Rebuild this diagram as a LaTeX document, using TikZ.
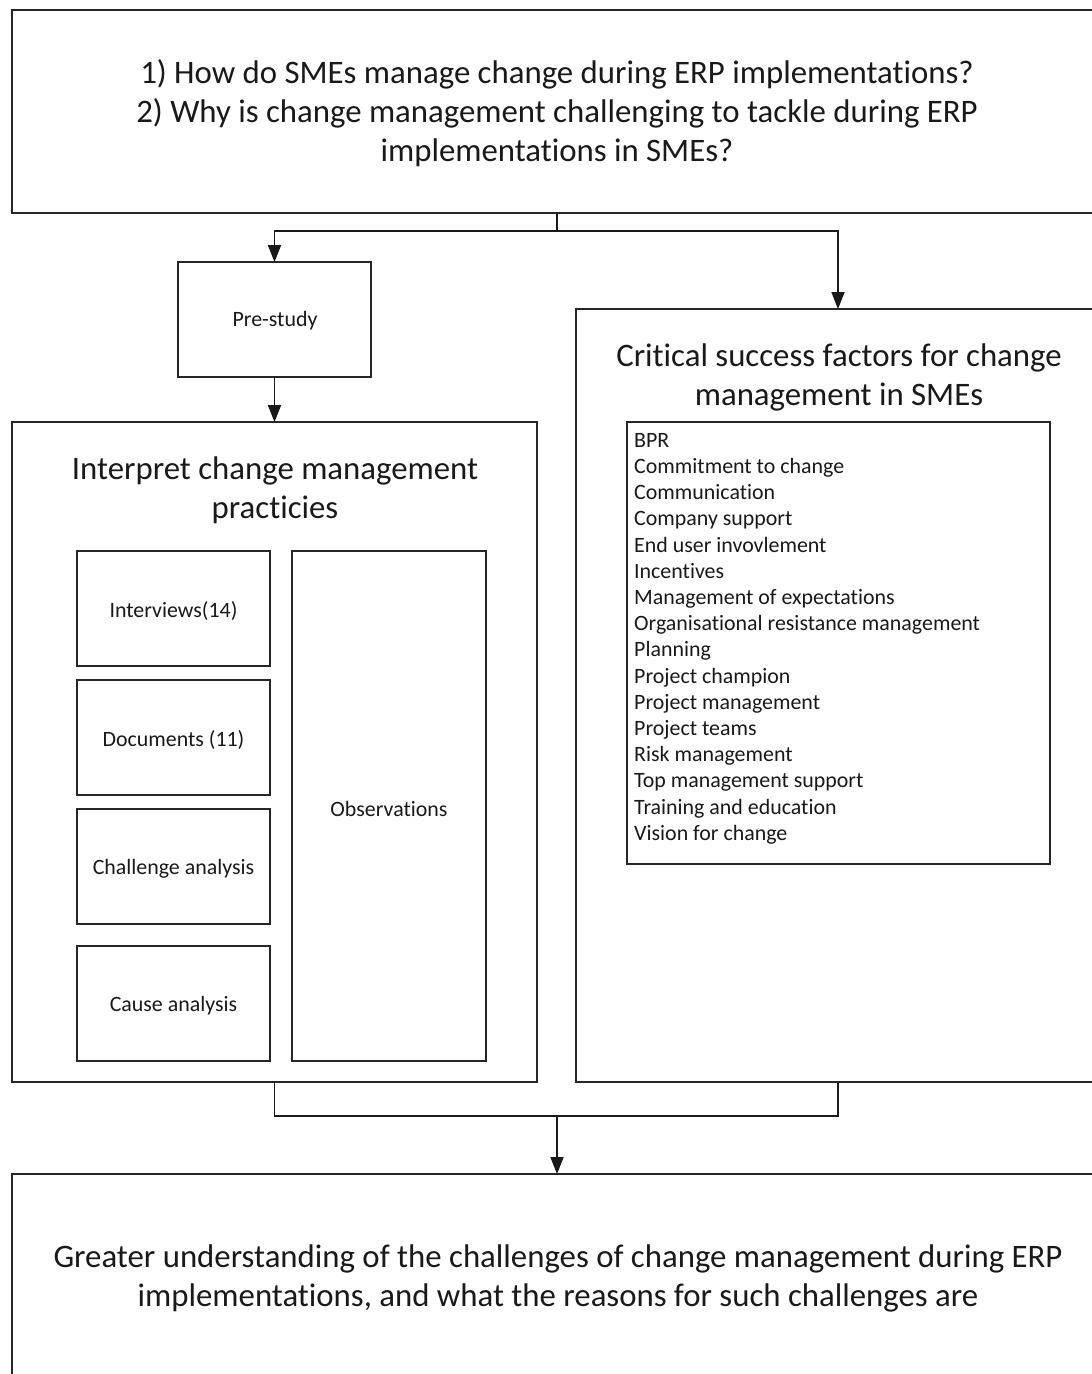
\documentclass[tikz,border=0pt]{standalone}
\usepackage{fontspec}
\setmainfont{Carlito}[Ligatures=NoCommon]
\usetikzlibrary{arrows.meta}
\begin{document}
\begin{tikzpicture}[x=1pt,y=-1pt,
  box/.style={draw=black!85,line width=1.8pt,inner sep=0pt,outer sep=0pt},
  big/.style={font=\fontsize{32.8}{39}\selectfont,align=center,text=black!90},
  small/.style={font=\fontsize{21.9}{26.2}\selectfont,text=black!90},
  arr/.style={line width=1.8pt,draw=black!90,-{Triangle[width=13pt,length=17pt]}},
  ln/.style={line width=1.8pt,draw=black!90}]
\useasboundingbox (0,0) rectangle (1092,1374);
\clip (0,0) rectangle (1092,1374);
\fill[white] (0,0) rectangle (1092,1374);
% boxes
\node[box,minimum width=1090pt,minimum height=203pt] (q) at (557,111.5) {};
\node[big] (qt) at (557,113) {1) How do SMEs manage change during ERP implementations?\\2) Why is change management challenging to tackle during ERP\\implementations in SMEs?};
\node[box,small,minimum width=193pt,minimum height=115pt] (pre) at (274.5,319.5) {};
\node[small] (pret) at (275,321) {Pre-study};
\node[box,minimum width=525pt,minimum height=660pt] (interp) at (274.5,752) {};
\node[big] (it) at (275,490.5) {Interpret change management\\practicies};
\node[box,minimum width=193pt,minimum height=115pt] (iv) at (173.5,608.5) {};
\node[small] (ivt) at (173.5,611) {Interviews(14)};
\node[box,minimum width=193pt,minimum height=115pt] (doc) at (173.5,737.5) {};
\node[small] (doct) at (173.5,740) {Documents (11)};
\node[box,minimum width=193pt,minimum height=115pt] (cha) at (173.5,866.5) {};
\node[small] (chat) at (173.5,869) {Challenge analysis};
\node[box,minimum width=193pt,minimum height=115pt] (cau) at (173.5,1003.5) {};
\node[small] (caut) at (173.5,1006) {Cause analysis};
\node[box,minimum width=194pt,minimum height=510pt] (obs) at (389,806) {};
\node[small] (obst) at (389,809) {Observations};
\node[box,minimum width=524pt,minimum height=773pt] (csf) at (838,695.5) {};
\node[big] (ct) at (839,377.5) {Critical success factors for change\\management in SMEs};
\node[box,minimum width=423pt,minimum height=442pt] (lst) at (838.5,643) {};
\node[small,align=left,anchor=north west,inner sep=0pt] (lt) at (634,433) {BPR\\Commitment to change\\Communication\\Company support\\End user invovlement\\Incentives\\Management of expectations\\Organisational resistance management\\Planning\\Project champion\\Project management\\Project teams\\Risk management\\Top management support\\Training and education\\Vision for change};
\node[box,minimum width=1090pt,minimum height=412pt] (res) at (557,1380) {};
\node[big] (rt) at (558,1278.5) {Greater understanding of the challenges of change management during ERP\\implementations, and what the reasons for such challenges are};
% connectors
\coordinate (j1) at (557,231);
\coordinate (j2) at (557,1116);
\draw[ln] (q.south) -- (j1);
\draw[arr] (j1) -| (pre.north);
\draw[arr] (j1) -| (csf.north);
\draw[arr] (pre.south) -- (interp.north);
\draw[ln] (interp.south) |- (j2);
\draw[ln] (csf.south) |- (j2);
\draw[arr] (j2) -- (res.north);
\end{tikzpicture}
\end{document}
